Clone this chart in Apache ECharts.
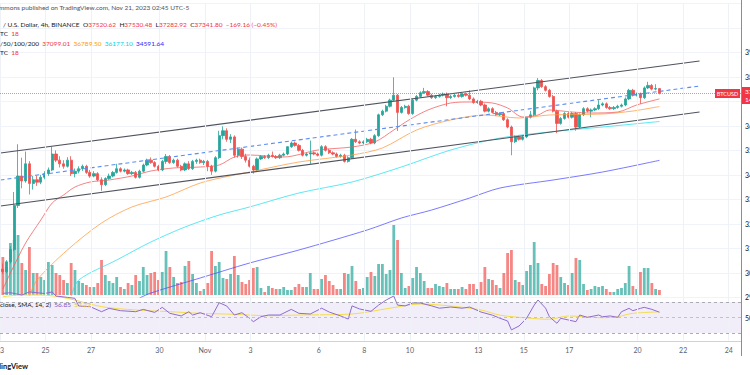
<!DOCTYPE html>
<html>
<head>
<meta charset="utf-8">
<script src="https://cdn.jsdelivr.net/npm/echarts@6/dist/echarts.min.js"></script>
<style>
  html, body { margin: 0; padding: 0; background: #fff; }
  #chart { width: 750px; height: 375px; }
</style>
</head>
<body>
<div id="chart"></div>
<script>
// BTCUSD 4h candles, Oct 23 03:00 -> Nov 20 23:00 (UTC-5)
const opens = [30150,30050,30450,30950,32750,33950,33750,34450,33650,33800,33700,33900,34050,34200,34850,34600,34450,34350,34600,34050,
  34150,34250,34350,34100,33950,34050,33800,33600,33850,33950,34100,34250,34150,34200,34050,34100,33900,34150,34400,34600,
  34500,34350,34200,34550,34750,34500,34600,34350,34200,34450,34250,34550,34600,34500,34550,34350,34150,34700,35600,35800,
  35450,35550,34800,35050,34750,34600,34350,34200,34650,34750,34700,34800,34750,34700,34800,34850,35150,35300,35200,35000,
  34800,34850,34900,34850,34800,35150,35000,34900,34850,34750,34800,34550,34700,35450,35350,35300,35350,35450,35300,35600,
  36450,36600,36800,37050,37250,36550,36750,36800,36500,37050,37200,37350,37400,37250,37150,37200,37250,37300,37150,37200,
  37250,37200,37300,37250,37100,36950,37000,36850,36600,36700,36550,36450,36500,36250,35950,35350,35550,35450,35550,36350,
  36450,37550,37850,37600,37450,37200,36600,36100,36300,36500,36350,36500,35950,36450,36700,36600,36650,36700,36850,36900,
  36750,36700,36750,36800,36850,37100,37450,37250,37300,37150,37550,37650,37500,37520.62];
const highs = [30380,30520,31080,33300,35250,34700,34950,34560,33950,33960,34000,34150,34300,35150,35000,34760,34600,34720,34760,34260,
  34350,34420,34410,34200,34150,34110,33900,33900,34050,34160,34450,34310,34260,34250,34160,34160,34210,34460,34660,34710,
  34560,34410,34610,34850,34810,34660,34660,34410,34510,34560,34610,34660,34660,34610,34610,34410,34760,35800,35980,35900,
  35660,35610,35110,35110,34860,34710,34410,34710,34810,34810,34860,34950,34810,34860,34910,35160,35360,35360,35260,35060,
  34910,35400,34960,34910,35210,35210,35060,34960,34910,34860,34860,34760,35500,35850,35410,35410,35510,35510,35660,36500,
  36660,36860,37110,37980,37300,36810,36860,36860,37110,37260,37410,37550,37460,37310,37260,37310,37360,37360,37260,37310,
  37310,37360,37360,37450,37160,37060,37060,36910,36760,36760,36610,36560,36560,36310,36010,35610,35610,35610,36360,36610,
  37600,37950,37910,37660,37510,37260,36660,36360,36560,36560,36560,36560,36510,36760,36760,36710,36760,37050,36960,36960,
  36810,36810,36860,36910,37160,37510,37510,37360,37360,37610,37800,37710,37700,37530.48];
const lows = [29950,29980,30380,30880,32650,33450,33680,33200,33400,33550,33620,33820,33960,34150,34520,34300,34250,34300,33950,33900,
  34060,34160,34040,33880,33900,33740,33350,33540,33800,33900,34050,34100,34100,34000,34000,33850,33850,34100,34350,34450,
  34300,34150,34150,34450,34450,34450,34300,34150,34150,34200,34200,34450,34450,34400,34150,34000,34100,34650,35450,35350,
  35300,34700,34700,34650,34500,34300,34050,34150,34600,34650,34650,34700,34650,34650,34750,34800,35100,35150,34950,34750,
  34750,34450,34800,34750,34750,34950,34850,34800,34700,34700,34500,34500,34650,35300,35250,35250,35300,35250,35250,35550,
  36400,36550,36750,37000,35790,36500,36700,36450,36450,37000,37150,37300,37200,37100,37100,37150,37200,36800,37100,37150,
  37150,37150,37200,37050,36900,36900,36800,36550,36550,36500,36400,36400,36200,35900,34800,35300,35400,35400,35500,36300,
  36400,37450,37550,37400,37150,36550,35700,36050,36250,36300,36300,35800,35900,36400,36550,36350,36600,36650,36800,36700,
  36650,36650,36700,36750,36800,37050,37200,37200,36900,37100,37500,37450,37450,37282.92];
const closes = [30050,30450,30950,32750,33950,33750,34450,33650,33800,33700,33900,34050,34200,34850,34600,34450,34350,34600,34050,34150,
  34250,34350,34100,33950,34050,33800,33600,33850,33950,34100,34250,34150,34200,34050,34100,33900,34150,34400,34600,34500,
  34350,34200,34550,34750,34500,34600,34350,34200,34450,34250,34550,34600,34500,34550,34350,34150,34700,35600,35800,35450,
  35550,34800,35050,34750,34600,34350,34200,34650,34750,34700,34800,34750,34700,34800,34850,35150,35300,35200,35000,34800,
  34850,34900,34850,34800,35150,35000,34900,34850,34750,34800,34550,34700,35450,35350,35300,35350,35450,35300,35600,36450,
  36600,36800,37050,37250,36550,36750,36800,36500,37050,37200,37350,37400,37250,37150,37200,37250,37300,37150,37200,37250,
  37200,37300,37250,37100,36950,37000,36850,36600,36700,36550,36450,36500,36250,35950,35350,35550,35450,35550,36350,36450,
  37550,37850,37600,37450,37200,36600,36100,36300,36500,36350,36500,35950,36450,36700,36600,36650,36700,36850,36900,36750,
  36700,36750,36800,36850,37100,37450,37250,37300,37150,37550,37650,37500,37520.62,37341.80];
// relative volume per candle
const volumes = [38,28,52,55,60,32,25,48,22,22,18,15,33,30,22,20,15,12,32,25,14,12,10,8,8,12,35,20,14,12,18,8,6,12,10,20,14,28,20,
  22,23,15,23,44,28,18,12,13,29,34,21,12,4,6,12,44,29,33,17,16,21,39,20,13,11,15,27,28,7,3,9,7,6,6,8,5,5,8,11,8,8,22,6,6,16,20,14,10,6,6,
  22,21,29,14,6,7,18,23,19,31,31,21,25,70,55,
  22,7,9,17,28,22,14,7,7,11,9,8,12,6,6,6,8,6,11,11,6,13,28,16,15,10,7,22,42,45,15,13,10,24,30,53,32,11,9,21,32,30,18,12,10,22,37,35,
  11,5,6,9,8,9,6,3,3,6,7,12,29,9,6,23,27,27,12,6,5];

// moving averages, [candle index, price]
const ma20 = [[0,29340],[2,29994],[6,31218],[10,32157],[13,32851],[16,33177],[19,33504],[23,33708],[28,33790],[34,33953],[39,34157],
  [45,34280],[52,34320],[57,34402],[61,34728],[65,34810],[74,34728],[83,35014],[92,35137],[98,35341],[103,35831],[107,36239],
  [112,36647],[118,36933],[123,36974],[129,36933],[133,36729],[137,36361],[141,36443],[144,36647],[150,36565],[155,36525],
  [162,36565],[167,36851],[173,37099.01]];
const ma50 = [[7,29054],[9,29708],[17,30932],[26,32034],[34,32688],[43,33096],[52,33667],[61,33994],[65,34116],[78,34524],
  [92,34810],[100,35096],[109,35831],[118,36239],[127,36443],[136,36321],[144,36443],[158,36484],[166,36606],[173,36789.50]];
const ma100 = [[18,29054],[20,29708],[30,30524],[39,31259],[48,31871],[57,32361],[65,32688],[78,33259],[92,33708],[105,34320],
  [118,35014],[131,35504],[144,35749],[158,35953],[173,36177.10]];
const ma200 = [[36,28972],[39,29178],[52,29790],[65,30401],[78,30932],[96,31749],[105,32238],[113,32565],[123,33055],[131,33463],
  [145,33790],[158,34116],[173,34591.64]];

// RSI 14 and its SMA, [candle index, value]
const rsi = [[0,81.2],[2,82],[5,79],[7,83],[11,81],[13,83],[14,77.7],[17,76],[19,74.7],[20,64.8],[23,64],[26,57.5],[28,61.8],
  [31,58.8],[35,57.5],[37,60.5],[40,56.6],[42,63.1],[44,55.4],[47,52],[49,57.5],[50,53.2],[52,56.2],[55,51],[57,69.1],[59,64.8],
  [61,53.2],[63,56.2],[65,49],[66,44.6],[68,51],[70,53.2],[73,53.2],[76,60.5],[78,55.4],[81,54.5],[84,62],[86,57],[89,52],
  [91,48],[92,65],[94,61],[97,58],[99,66],[101,72.6],[103,77.7],[104,66],[106,65],[108,68.7],[110,68.7],[113,65],[115,62],
  [118,63.5],[121,62],[123,63.5],[126,57],[129,53],[131,49],[133,45.5],[134,34],[136,39],[138,49],[140,66],[141,72.6],[143,62],
  [144,51],[146,42.5],[147,49],[149,46.8],[151,44.6],[152,53.2],[154,50.2],[157,53.2],[158,51],[160,52],[162,50.2],[163,57.5],
  [165,61.8],[166,58.8],[168,61.8],[169,63.1],[171,60.5],[173,56.85]];
const rsiSma = [[0,76.9],[5,79],[10,79],[17,74.7],[26,64],[35,59.7],[44,57.5],[52,55.4],[61,54.1],[70,52.3],[78,53.2],[92,54.5],
  [102,62],[110,67.4],[118,64.8],[126,59.7],[131,53],[139,49],[144,47.7],[149,52],[153,51],[158,49.7],[162,51],[166,55.4],[173,57.22]];

// parallel channel drawn on the chart, [day from Oct 23]
const channelDays = [0.02, 30.72];
const channelUpper = [34892, 38647];
const channelMid = [33790, 37627];
const channelLower = [32728, 36565];

// date axis, days from Oct 23
const tickDays = [0, 2, 4, 7, 9, 11, 14, 16, 18, 21, 23, 25, 28, 30, 32];
const tickLabels = ['23', '25', '27', '30', 'Nov', '3', '6', '8', '10', '13', '15', '17', '20', '22', '24'];

const lastOHLC = [37520.62, 37530.48, 37282.92, 37341.80];
const change = '−169.16 (−0.45%)';
const maLast = ['37099.01', '36789.50', '36177.10', '34591.64'];
const rsiLast = ['56.85', '57.22'];

const UP = '#26a69a', DOWN = '#ef5350';
const FONT = 'Lato';
const X_MAX = 32.54;
const candleDay = (i) => 0.125 + i / 6;
const toXY = (arr) => arr.map(([i, v]) => [candleDay(i), v]);

const candles = opens.map((o, i) => [candleDay(i), o, closes[i], lows[i], highs[i]]);
const volData = volumes.map((v, i) => ({
  value: [candleDay(i), v],
  itemStyle: { color: closes[i] >= opens[i] ? 'rgba(38,166,154,0.7)' : 'rgba(239,83,80,0.7)' },
}));

const maLine = (data, color) => ({
  type: 'line', data: toXY(data), xAxisIndex: 0, yAxisIndex: 0,
  symbol: 'none', smooth: 0.3, silent: true,
  lineStyle: { color, width: 1, opacity: 0.75 },
});
const chLine = (vals, color, type) => ({
  type: 'line', data: channelDays.map((d, k) => [d, vals[k]]), xAxisIndex: 0, yAxisIndex: 0,
  symbol: 'none', silent: true, lineStyle: { color, width: 1.1, type },
});

const vGrid = tickDays.map((d) => ({ xAxis: d }));
const xBase = { type: 'value', min: 0, max: X_MAX, show: false };

const chart = echarts.init(document.getElementById('chart'), null, { renderer: 'svg' });
chart.setOption({
  animation: false,
  backgroundColor: '#fff',
  grid: [
    { left: 0, right: 9, top: 3.35, bottom: 77.65, outerBoundsMode: 'none', containLabel: false },
    { left: 0, right: 9, top: 195, bottom: 80, outerBoundsMode: 'none', containLabel: false },
    { left: 0, right: 9, top: 286.5, bottom: 34.25, outerBoundsMode: 'none', containLabel: false },
  ],
  xAxis: [
    { ...xBase, gridIndex: 0 },
    { ...xBase, gridIndex: 1 },
    {
      type: 'value', gridIndex: 2, min: 0, max: X_MAX,
      axisLine: { show: true, lineStyle: { color: '#cfd2d9' } },
      axisTick: { show: false },
      splitLine: { show: false },
      axisLabel: {
        customValues: tickDays,
        formatter: (v) => tickLabels[tickDays.indexOf(v)] || '',
        color: '#5d606b', fontSize: 7, fontFamily: FONT, margin: 6,
      },
    },
  ],
  yAxis: [
    {
      type: 'value', gridIndex: 0, position: 'right', min: 29000, max: 41000, interval: 1000,
      axisLine: { show: false }, axisTick: { show: false },
      splitLine: { lineStyle: { color: '#f0f3fa' } },
      axisLabel: {
        color: '#131722', fontSize: 7, fontFamily: FONT, margin: 4,
        formatter: (v) => (v > 39000 || v === 37000 ? '' : v.toFixed(2)),
      },
    },
    { type: 'value', gridIndex: 1, min: 0, max: 100, show: false },
    {
      type: 'value', gridIndex: 2, position: 'right', min: 20, max: 90,
      axisLine: { show: false }, axisTick: { show: false }, splitLine: { show: false },
      axisLabel: { customValues: [50], color: '#131722', fontSize: 7, fontFamily: FONT, margin: 4, formatter: (v) => v.toFixed(2) },
    },
  ],
  series: [
    {
      type: 'line', stack: 'ch', data: channelDays.map((d, k) => [d, channelLower[k]]),
      xAxisIndex: 0, yAxisIndex: 0, symbol: 'none', silent: true, lineStyle: { opacity: 0 },
      markLine: {
        silent: true, symbol: ['none', 'none'], label: { show: false },
        lineStyle: { color: '#eef1f6', type: 'solid', width: 1 }, data: vGrid,
      },
    },
    {
      type: 'line', stack: 'ch', data: channelDays.map((d, k) => [d, channelUpper[k] - channelLower[k]]),
      xAxisIndex: 0, yAxisIndex: 0, symbol: 'none', silent: true, lineStyle: { opacity: 0 },
      areaStyle: { color: 'rgba(0,188,212,0.08)' },
    },
    { type: 'bar', data: volData, xAxisIndex: 1, yAxisIndex: 1, barWidth: 2.8, silent: true },
    maLine(ma200, '#4d4dff'),
    maLine(ma100, '#26e0f0'),
    maLine(ma50, '#ff9a3c'),
    maLine(ma20, '#f25a5a'),
    {
      type: 'candlestick', data: candles, xAxisIndex: 0, yAxisIndex: 0, barWidth: 2.8,
      encode: { x: 0, y: [1, 2, 3, 4] },
      itemStyle: { color: UP, color0: DOWN, borderColor: UP, borderColor0: DOWN, borderWidth: 0.8 },
      markLine: {
        silent: true, symbol: ['none', 'none'], label: { show: false },
        data: [{ yAxis: lastOHLC[3], lineStyle: { color: '#f23645', type: 'dotted', width: 1, opacity: 0.6 } }],
      },
    },
    chLine(channelUpper, '#50535e', 'solid'),
    chLine(channelLower, '#50535e', 'solid'),
    chLine(channelMid, '#5b8def', [4, 3]),
    {
      type: 'line', data: toXY(rsiSma), xAxisIndex: 2, yAxisIndex: 2, symbol: 'none', smooth: 0.3, silent: true,
      lineStyle: { color: '#f5dc4a', width: 1 },
      markArea: { silent: true, itemStyle: { color: 'rgba(126,87,194,0.1)' }, data: [[{ yAxis: 30 }, { yAxis: 70 }]] },
      markLine: {
        silent: true, symbol: ['none', 'none'], label: { show: false },
        data: [
          ...vGrid.map((g) => ({ ...g, lineStyle: { color: '#eef1f6', type: 'solid', width: 1 } })),
          { yAxis: 70, lineStyle: { color: '#9598a1', type: [3, 3], width: 0.8 } },
          { yAxis: 50, lineStyle: { color: '#b2b5be', type: [3, 3], width: 0.8 } },
          { yAxis: 30, lineStyle: { color: '#9598a1', type: [3, 3], width: 0.8 } },
        ],
      },
    },
    {
      type: 'line', data: toXY(rsi), xAxisIndex: 2, yAxisIndex: 2, symbol: 'none', silent: true,
      lineStyle: { color: '#8e6bd1', width: 1 },
    },
  ],
  graphic: [
    { type: 'line', shape: { x1: 741.5, y1: 0, x2: 741.5, y2: 356 }, style: { stroke: '#8a8d96', lineWidth: 1 }, z: 10 },
    {
      type: 'text', x: -1, y: 7, z: 10,
      style: { text: 'mmons published on TradingView.com, Nov 21, 2023 02:45 UTC-5', fill: '#50535e', font: `6.5px ${FONT}`, verticalAlign: 'middle' },
    },
    {
      type: 'text', x: 3, y: 24, z: 10,
      style: {
        text: `{d|/ U.S. Dollar, 4h, BINANCE}  {d|O}{r|${lastOHLC[0]}}  {d|H}{r|${lastOHLC[1]}}  {d|L}{r|${lastOHLC[2]}}  {d|C}{r|${lastOHLC[3].toFixed(2)}}  {r|${change}}`,
        font: `6.5px ${FONT}`, verticalAlign: 'middle',
        rich: { d: { fill: '#131722', fontSize: 6.5, fontFamily: FONT }, r: { fill: '#f23645', fontSize: 6.5, fontFamily: FONT } },
      },
    },
    {
      type: 'text', x: 0, y: 33, z: 10,
      style: { text: '{d|TC}  {r|18}', font: `6.5px ${FONT}`, verticalAlign: 'middle',
        rich: { d: { fill: '#131722', fontSize: 6.5, fontFamily: FONT }, r: { fill: '#f23645', fontSize: 6.5, fontFamily: FONT } } },
    },
    {
      type: 'text', x: 0, y: 43, z: 10,
      style: {
        text: `{d|/50/100/200}  {a|${maLast[0]}}  {b|${maLast[1]}}  {c|${maLast[2]}}  {e|${maLast[3]}}`,
        font: `6.5px ${FONT}`, verticalAlign: 'middle',
        rich: {
          d: { fill: '#131722', fontSize: 6.5, fontFamily: FONT },
          a: { fill: '#f23645', fontSize: 6.5, fontFamily: FONT },
          b: { fill: '#ff9800', fontSize: 6.5, fontFamily: FONT },
          c: { fill: '#00d5e8', fontSize: 6.5, fontFamily: FONT },
          e: { fill: '#2a2aff', fontSize: 6.5, fontFamily: FONT },
        },
      },
    },
    {
      type: 'text', x: 0, y: 52, z: 10,
      style: { text: '{d|TC}  {r|18}', font: `6.5px ${FONT}`, verticalAlign: 'middle',
        rich: { d: { fill: '#131722', fontSize: 6.5, fontFamily: FONT }, r: { fill: '#f23645', fontSize: 6.5, fontFamily: FONT } } },
    },
    {
      type: 'text', x: 0, y: 304, z: 10,
      style: {
        text: `{d|close, SMA, 14, 2)}  {p|${rsiLast[0]}}  {y|${rsiLast[1]}}`,
        font: `6.5px ${FONT}`, verticalAlign: 'middle',
        rich: {
          d: { fill: '#131722', fontSize: 6.5, fontFamily: FONT },
          p: { fill: '#7e57c2', fontSize: 6.5, fontFamily: FONT },
          y: { fill: '#e6c619', fontSize: 6.5, fontFamily: FONT },
        },
      },
    },
    { type: 'rect', shape: { x: 715, y: 89, width: 25, height: 9 }, style: { fill: '#f23645' }, z: 11 },
    { type: 'text', x: 727.5, y: 93.5, z: 12, style: { text: 'BTCUSD', fill: '#fff', font: `5.5px ${FONT}`, align: 'center', verticalAlign: 'middle' } },
    { type: 'rect', shape: { x: 742, y: 87, width: 10, height: 17 }, style: { fill: '#f23645' }, z: 11 },
    { type: 'text', x: 745, y: 91.5, z: 12, style: { text: lastOHLC[3].toFixed(2), fill: '#fff', font: `6.5px ${FONT}`, verticalAlign: 'middle' } },
    { type: 'text', x: 745, y: 99.5, z: 12, style: { text: '14', fill: '#fff', font: `6.5px ${FONT}`, verticalAlign: 'middle' } },
    { type: 'text', x: 28, y: 366, z: 10, style: { text: 'TradingView', fill: '#131722', font: `bold 7.5px ${FONT}`, align: 'right', verticalAlign: 'middle' } },
  ],
});
</script>
</body>
</html>
